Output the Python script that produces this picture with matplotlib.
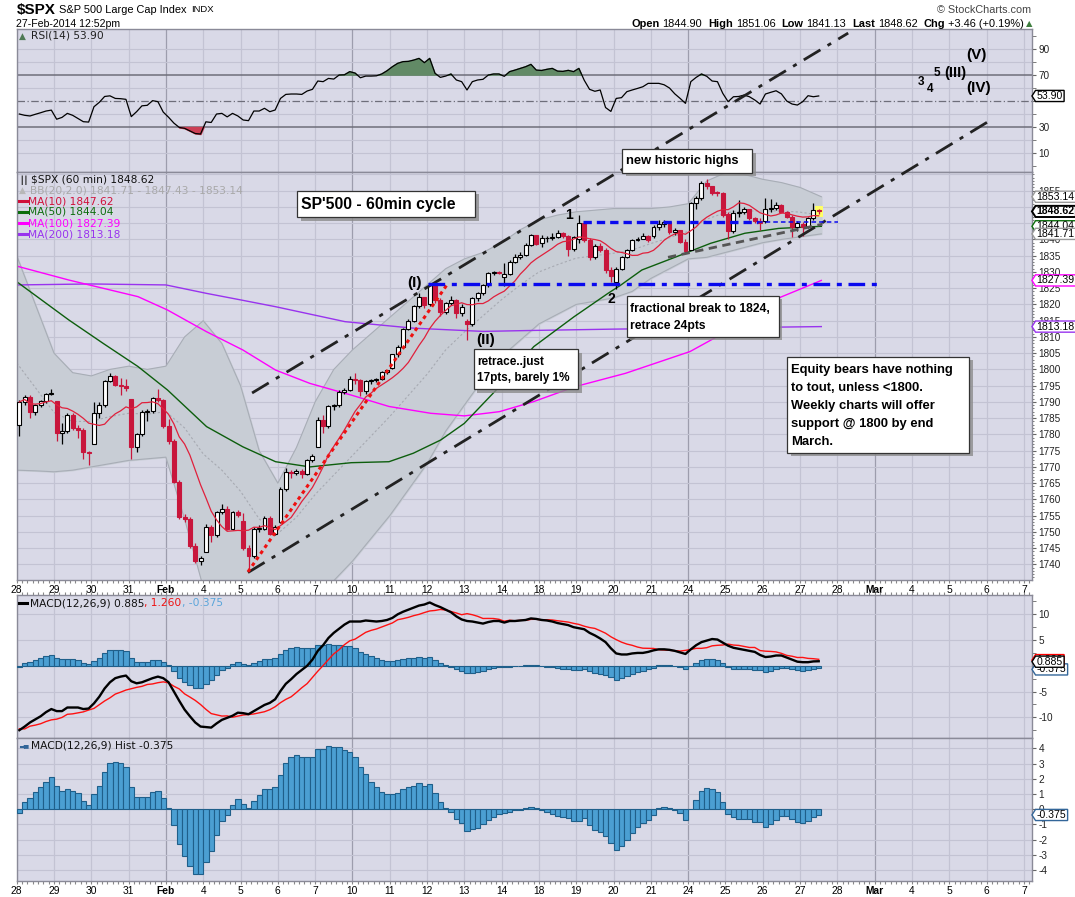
import numpy as np
import matplotlib
matplotlib.use('Agg')
import matplotlib.pyplot as plt
import matplotlib.patheffects as pe
import matplotlib.transforms as mtrans
from matplotlib.path import Path
from matplotlib.patches import Rectangle

plt.rcParams['font.family'] = ['Liberation Sans', 'DejaVu Sans']
plt.rcParams['axes.unicode_minus'] = False

W, H = 1075, 897

# ---------------- data (60 min bars, 7 per session) ----------------
day_labels = ['28', '29', '30', '31', 'Feb', '4', '5', '6', '7', '10', '11', '12', '13', '14',
              '18', '19', '20', '21', '24', '25', '26', '27', '28', 'Mar', '4', '5', '6', '7']
monday_idx = [4, 9, 18, 23]

day_open = [1783.0, 1790.2, 1777.2, 1790.9, 1782.7, 1743.8, 1753.4, 1752.9, 1776.0, 1797.0, 1800.4,
            1820.1, 1814.8, 1828.5, 1839.0, 1840.0, 1827.0, 1841.1, 1836.8, 1847.7, 1845.8, 1844.9]

closes = [
    1790.0, 1791.5, 1786.8, 1789.0, 1790.2, 1792.5, 1792.5,   # Jan 28
    1780.3, 1781.0, 1786.0, 1782.0, 1781.5, 1774.5, 1774.2,   # Jan 29
    1786.6, 1789.0, 1796.4, 1798.0, 1795.3, 1795.0, 1794.2,   # Jan 30
    1776.0, 1780.0, 1787.0, 1787.2, 1791.2, 1790.5, 1782.6,   # Jan 31
    1778.0, 1765.5, 1754.5, 1754.0, 1745.8, 1741.0, 1741.9,   # Feb 3
    1751.5, 1749.0, 1756.0, 1757.2, 1751.0, 1756.0, 1755.2,   # Feb 4
    1745.0, 1742.5, 1751.0, 1751.0, 1754.3, 1749.5, 1751.6,   # Feb 5
    1763.3, 1768.3, 1768.0, 1768.8, 1767.8, 1772.0, 1773.4,   # Feb 6
    1784.5, 1782.7, 1788.7, 1789.0, 1793.2, 1793.8, 1797.0,   # Feb 7
    1796.6, 1793.3, 1796.4, 1796.6, 1797.2, 1799.2, 1799.8,   # Feb 10
    1804.6, 1807.0, 1812.5, 1815.0, 1819.5, 1822.4, 1819.75,  # Feb 11
    1826.0, 1821.4, 1817.8, 1820.3, 1821.3, 1817.3, 1819.3,   # Feb 12
    1814.0, 1821.9, 1823.4, 1826.0, 1829.6, 1830.1, 1829.8,   # Feb 13
    1829.5, 1833.2, 1834.7, 1835.2, 1838.3, 1841.4, 1838.6,   # Feb 14
    1840.3, 1840.5, 1840.9, 1842.0, 1841.0, 1837.2, 1840.8,   # Feb 18
    1845.0, 1839.8, 1834.5, 1838.0, 1836.8, 1830.6, 1828.8,   # Feb 19
    1831.0, 1834.7, 1836.8, 1839.8, 1840.2, 1841.0, 1839.8,   # Feb 20
    1843.9, 1844.8, 1845.5, 1842.4, 1842.8, 1839.3, 1836.3,   # Feb 21
    1851.1, 1852.6, 1857.3, 1856.3, 1854.4, 1854.3, 1847.6,   # Feb 24
    1842.5, 1848.0, 1848.5, 1849.3, 1846.5, 1845.8, 1845.1,   # Feb 25
    1849.3, 1849.6, 1850.6, 1848.5, 1847.0, 1843.9, 1845.2,   # Feb 26
    1843.8, 1846.5, 1849.0, 1848.62,                          # Feb 27
]
highs = [
    1790.5, 1792.0, 1792.0, 1789.5, 1790.5, 1792.8, 1793.9,
    1790.2, 1783.5, 1786.5, 1786.5, 1783.0, 1782.0, 1775.0,
    1790.0, 1790.0, 1796.8, 1798.8, 1798.2, 1797.5, 1797.0,
    1790.9, 1780.5, 1787.5, 1787.8, 1791.5, 1793.9, 1791.0,
    1784.8, 1778.5, 1766.0, 1755.5, 1754.5, 1746.5, 1742.5,
    1752.5, 1752.0, 1756.5, 1758.7, 1758.0, 1756.5, 1756.8,
    1755.8, 1746.0, 1751.5, 1752.0, 1754.8, 1754.8, 1752.0,
    1763.8, 1769.8, 1769.0, 1769.5, 1769.3, 1772.5, 1774.1,
    1785.5, 1786.0, 1789.2, 1789.5, 1793.8, 1794.2, 1798.0,
    1799.0, 1797.0, 1796.8, 1797.0, 1797.5, 1799.5, 1799.9,
    1804.9, 1807.5, 1812.8, 1815.5, 1819.8, 1823.5, 1822.0,
    1826.6, 1826.3, 1822.0, 1820.8, 1822.5, 1821.8, 1820.0,
    1815.5, 1822.2, 1823.8, 1826.4, 1830.0, 1830.3, 1830.3,
    1832.6, 1833.6, 1835.5, 1836.0, 1838.8, 1841.7, 1841.5,
    1841.5, 1841.0, 1842.0, 1842.9, 1842.3, 1841.5, 1841.0,
    1847.5, 1845.5, 1840.3, 1838.6, 1838.8, 1837.3, 1831.5,
    1831.5, 1835.0, 1837.2, 1840.2, 1840.8, 1842.1, 1841.5,
    1844.5, 1846.1, 1846.0, 1845.6, 1843.5, 1843.0, 1840.0,
    1851.5, 1853.5, 1858.0, 1858.7, 1856.5, 1855.0, 1854.5,
    1848.5, 1849.0, 1852.0, 1850.0, 1849.5, 1847.0, 1846.5,
    1852.7, 1852.3, 1851.6, 1850.8, 1848.8, 1847.5, 1845.8,
    1845.5, 1847.0, 1851.1, 1849.5,
]
lows = [
    1779.5, 1789.0, 1785.0, 1786.0, 1788.5, 1789.8, 1792.0,
    1778.0, 1777.0, 1780.5, 1781.5, 1779.0, 1772.5, 1770.5,
    1777.2, 1785.0, 1788.5, 1796.0, 1794.8, 1792.0, 1793.5,
    1772.3, 1774.5, 1779.5, 1784.0, 1786.5, 1790.0, 1782.0,
    1777.0, 1765.0, 1754.0, 1753.0, 1745.0, 1740.5, 1739.7,
    1743.8, 1747.0, 1748.5, 1755.5, 1750.5, 1750.5, 1754.5,
    1744.5, 1737.9, 1742.0, 1750.0, 1750.5, 1749.0, 1749.0,
    1752.6, 1762.5, 1766.5, 1767.5, 1766.5, 1767.5, 1771.5,
    1776.0, 1780.5, 1782.0, 1787.5, 1788.5, 1792.5, 1793.5,
    1795.5, 1791.8, 1792.5, 1795.5, 1796.0, 1796.8, 1798.5,
    1800.1, 1803.8, 1806.5, 1812.0, 1814.5, 1819.0, 1818.8,
    1819.5, 1820.5, 1816.5, 1817.0, 1819.8, 1815.9, 1816.5,
    1809.2, 1813.5, 1821.0, 1823.0, 1825.5, 1829.0, 1829.3,
    1825.6, 1829.0, 1832.8, 1834.0, 1834.8, 1838.0, 1838.2,
    1837.6, 1839.2, 1839.8, 1840.5, 1840.5, 1835.0, 1836.5,
    1839.0, 1839.3, 1833.8, 1834.0, 1836.0, 1829.8, 1827.0,
    1824.6, 1830.5, 1834.2, 1836.5, 1839.5, 1840.0, 1839.2,
    1840.5, 1843.0, 1843.8, 1841.8, 1841.5, 1838.8, 1835.6,
    1836.8, 1849.5, 1852.0, 1855.5, 1853.8, 1853.5, 1847.0,
    1840.2, 1842.0, 1847.0, 1847.8, 1846.0, 1845.0, 1843.0,
    1845.0, 1848.5, 1849.0, 1848.0, 1846.5, 1840.7, 1842.5,
    1841.1, 1843.5, 1846.0, 1847.8,
]

rsi = [
    40, 39, 38.5, 39.8, 41, 42.3, 43,
    36, 37.4, 40.5, 39, 36.5, 34.1, 33.8,
    45.6, 49, 53.5, 54, 52, 51.8, 51.3,
    38, 41.8, 46.3, 46.7, 50.3, 49.5, 41.5,
    37.5, 33, 29.7, 29, 27, 25, 24.6,
    34, 33.5, 40, 40.5, 37.8, 40.5, 38.5,
    35.4, 34.9, 42.3, 42.3, 44.4, 41.8, 43.1,
    52, 55.1, 55.4, 55.4, 55.1, 57.7, 59,
    65.4, 64.9, 67.4, 66.9, 70, 70.2, 72.6,
    71.5, 67.9, 69.2, 69.2, 69.4, 70.8, 73.3,
    76.4, 79, 80.3, 80.5, 81.5, 82.8, 79.5,
    82.8, 71.3, 68.2, 69.2, 70.8, 66.2, 64.9,
    58.5, 64.9, 66.2, 66.7, 70, 70.8, 70.8,
    69, 72.6, 73.8, 75.1, 76.4, 78.2, 73.8,
    73.5, 74.4, 75.1, 73, 72.8, 73.6, 72.6,
    75.1, 66, 59, 57.5, 58.5, 45, 42,
    52, 52.6, 57.2, 58.5, 59.7, 61, 63.6,
    63.6, 63.6, 62.5, 60, 55.5, 52, 48.2,
    64.9, 68.2, 70.8, 69, 65.4, 64.9, 55.9,
    49.5, 53.3, 53.5, 54.6, 53.3, 50.8, 47.7,
    55.4, 56.7, 57.9, 55.5, 50, 47.7, 46.9,
    49.5, 54.1, 53.3, 53.9,
]

macd = [
    -12.5, -11.8, -11.0, -10.4, -9.8, -9.0, -8.4,
    -8.8, -8.8, -8.1, -8.1, -8.1, -8.4, -8.3,
    -7.3, -6.0, -4.4, -3.2, -2.4, -2.1, -1.9,
    -3.0, -3.4, -3.2, -2.8, -2.4, -2.1, -2.4,
    -3.2, -5.0, -6.8, -8.5, -9.8, -11.0, -11.8,
    -11.9, -12.0, -11.2, -10.5, -10.1, -9.7, -9.1,
    -9.2, -9.4, -8.8, -8.2, -7.6, -7.2, -6.5,
    -4.9, -3.5, -2.6, -1.6, -0.8, 0.0, 1.2,
    2.9, 4.0, 5.4, 6.4, 7.2, 8.0, 8.6,
    8.6, 8.6, 8.8, 8.7, 8.6, 8.7, 8.9,
    9.3, 10.0, 10.5, 10.9, 11.3, 11.7, 11.9,
    12.3, 11.8, 11.4, 10.9, 10.4, 9.6, 9.0,
    8.7, 8.6, 8.4, 8.2, 8.5, 8.7, 8.7,
    8.4, 8.7, 8.7, 8.8, 8.9, 9.2, 9.1,
    8.9, 8.8, 8.6, 8.3, 8.1, 7.9, 7.5,
    7.3, 7.1, 6.4, 5.9, 5.3, 4.6, 3.4,
    2.4, 2.2, 2.2, 2.4, 2.5, 2.5, 2.7,
    3.0, 3.2, 3.2, 3.1, 2.9, 2.6, 2.3,
    3.2, 4.0, 4.6, 4.9, 5.2, 5.1, 4.5,
    3.9, 3.5, 3.3, 3.1, 2.9, 2.7, 2.1,
    1.7, 1.8, 2.0, 2.0, 1.6, 1.2, 0.8,
    0.7, 0.7, 0.85, 0.885,
]
hist = [
    -0.26, 0.46, 0.72, 1.12, 1.45, 1.82, 2.1,
    1.56, 1.23, 1.32, 1.23, 1.05, 0.55, 0.29,
    0.98, 1.56, 2.43, 3.02, 3.09, 3.02, 2.81,
    1.45, 0.79, 0.79, 0.83, 1.12, 1.18, 0.72,
    0.11, -1.03, -2.31, -3.05, -3.73, -4.28, -4.28,
    -3.45, -2.72, -1.69, -0.74, -0.37, 0.29, 0.66,
    0.35, 0.07, 0.55, 0.94, 1.32, 1.32, 1.45,
    2.26, 3.02, 3.42, 3.57, 3.46, 3.46, 3.46,
    3.95, 3.95, 4.19, 4.08, 4.08, 3.9, 3.75,
    3.42, 2.76, 2.3, 1.82, 1.45, 1.16, 0.98,
    0.98, 1.05, 1.34, 1.49, 1.56, 1.71, 1.56,
    1.65, 1.05, 0.46, 0.07, -0.15, -0.66, -0.92,
    -1.43, -1.32, -1.21, -0.99, -0.70, -0.48, -0.33,
    -0.26, -0.15, -0.04, -0.04, 0.07, 0.18, 0.07,
    -0.04, -0.15, -0.30, -0.45, -0.53, -0.59, -0.74,
    -0.74, -0.59, -1.03, -1.36, -1.51, -1.73, -2.24,
    -2.68, -2.39, -2.02, -1.58, -1.14, -0.92, -0.70,
    -0.37, 0.07, 0.13, 0.07, -0.04, -0.26, -0.70,
    0.02, 0.61, 1.21, 1.38, 1.32, 1.12, 0.46,
    -0.31, -0.53, -0.66, -0.66, -0.66, -0.86, -0.86,
    -1.14, -0.99, -0.70, -0.42, -0.42, -0.66, -0.81,
    -0.92, -0.74, -0.53, -0.375,
]

# moving averages / bands (x in sessions)
bb_x = [0, 0.5, 1, 1.5, 2, 2.5, 3, 3.5, 4, 4.5, 5, 5.5, 6, 6.5, 7, 7.5, 8, 8.5, 9, 9.5, 10, 10.5,
        11, 11.5, 12, 12.5, 13, 13.5, 14, 14.5, 15, 15.5, 16, 16.5, 17, 17.5, 18, 18.5, 19, 19.5,
        20, 20.5, 21, 21.57]
bb_upper = [1835, 1820, 1805, 1799, 1798, 1800, 1801, 1800, 1801, 1810, 1815, 1808, 1795, 1775,
            1765, 1776, 1790, 1800, 1806, 1811, 1816, 1821, 1826, 1831, 1834, 1836, 1839, 1843,
            1846, 1847.5, 1848.5, 1849, 1849.5, 1849.5, 1849.5, 1850, 1851, 1858, 1860.5, 1860,
            1858.5, 1857.5, 1856, 1853.14]
bb_lower = [1769, 1768.8, 1768.5, 1769, 1770, 1771, 1772, 1772.5, 1773, 1754, 1733, 1730, 1730,
            1733, 1734, 1733, 1733, 1735, 1741, 1748, 1755, 1763, 1771, 1781, 1789, 1797, 1804,
            1809, 1814, 1817, 1820, 1821, 1822, 1824, 1828, 1831, 1834, 1834.5, 1836, 1837.5,
            1839, 1840, 1840.8, 1841.71]

ma50_x = [0.0, 1.4, 2.32, 3.25, 4.04, 5.09, 6.06, 6.94, 7.86, 8.97, 9.98, 10.63, 11.37, 12.0,
          12.94, 13.86, 14.94, 15.85, 16.2, 16.76, 17.69, 18.6, 19.52, 20.43, 21.57]
ma50 = [1827, 1815.2, 1808, 1800.9, 1793.7, 1782.4, 1776.2, 1771.6, 1770, 1771.3, 1771.6, 1774.2,
        1778.3, 1783.4, 1794.7, 1807, 1816.2, 1823.4, 1826, 1830.6, 1834.7, 1838.8, 1841.9,
        1843.4, 1844.04]
ma100_x = [0.0, 1.4, 3.25, 4.04, 5.09, 6.06, 6.94, 7.86, 8.97, 9.98, 11.1, 12.0, 12.94, 13.86,
           14.97, 16.32, 18.05, 18.7, 20.43, 21.57]
ma100 = [1831.8, 1827.5, 1822.4, 1818.3, 1811.6, 1806, 1799.8, 1795.7, 1792.1, 1788.6, 1786.5,
         1785.7, 1787, 1790.1, 1794.7, 1798.8, 1805.5, 1809.6, 1822.0, 1827.39]
ma200_x = [0.0, 2.0, 4.0, 5.09, 6.0, 6.94, 8.8, 10.63, 12.5, 13.86, 16.0, 21.57]
ma200 = [1826.0, 1826.3, 1826.0, 1823.4, 1821.4, 1819.3, 1814.7, 1812.7, 1811.7, 1812.0, 1812.4,
         1813.18]

# ---------------- derived ----------------
n = len(closes)
closes = np.array(closes)
opens = np.array([day_open[j // 7] if j % 7 == 0 else closes[j - 1] for j in range(n)])
highs = np.maximum(np.array(highs), np.maximum(opens, closes))
lows = np.minimum(np.array(lows), np.minimum(opens, closes))
bar_x = (np.arange(n) + 0.5) / 7.0
ma10 = np.array([closes[max(0, j - 9):j + 1].mean() for j in range(n)])
macd = np.array(macd)
hist = np.array(hist)
signal = macd - hist
rsi = np.array(rsi)
bb_mid = (np.array(bb_upper) + np.array(bb_lower)) / 2

# ---------------- figure ----------------
BG = '#d9d9e7'
GRID = '#c3c3d3'
GRID_DK = '#9d9dad'
SPINE = '#8a8a98'
RED = '#c8163c'
XMAX = 27.21

fig = plt.figure(figsize=(W / 100, H / 100), dpi=100)
fig.patch.set_facecolor('white')


def px_axes(x0, y0, x1, y1):
    return fig.add_axes([x0 / W, 1 - y1 / H, (x1 - x0) / W, (y1 - y0) / H])


ax_rsi = px_axes(16.7, 29.3, 1031.7, 172.3)
ax = px_axes(16.7, 172.3, 1031.7, 580)
ax_macd = px_axes(16.7, 595, 1031.7, 738.3)
ax_hist = px_axes(16.7, 738.3, 1031.7, 881)

for a in (ax_rsi, ax, ax_macd, ax_hist):
    a.set_facecolor(BG)
    a.set_xlim(0, XMAX)
    for s in a.spines.values():
        s.set_color(SPINE)
        s.set_linewidth(1.0)
    for k in range(28):
        a.axvline(k, color=GRID_DK if k in monday_idx else GRID, lw=0.9, zorder=0.5)
    a.yaxis.tick_right()
    a.tick_params(axis='y', which='both', left=False, right=True, labelleft=False, labelright=True,
                  labelsize=7.2, colors='#222222', length=3, pad=2)
    a.tick_params(axis='y', which='both', color='#666666')
    a.tick_params(axis='x', which='both', bottom=False, top=False, labelbottom=False)

ax_rsi.set_ylim(-4.85, 105.2)
ax.set_ylim(1735.2, 1860.66)
ax_macd.set_ylim(-14.08, 13.75)
ax_hist.set_ylim(-4.72, 4.67)

# horizontal grids
for v in range(10, 100, 10):
    if v in (30, 50, 70):
        continue
    ax_rsi.axhline(v, color=GRID, lw=0.8, zorder=0.5)
ax_rsi.axhline(70, color='#6e6e7a', lw=1.1, zorder=0.6)
ax_rsi.axhline(30, color='#6e6e7a', lw=1.1, zorder=0.6)
ax_rsi.axhline(50, color='#6e6e7a', lw=0.9, ls=(0, (6, 2, 1, 2)), zorder=0.6)
for v in range(1740, 1861, 5):
    ax.axhline(v, color=GRID, lw=0.8, zorder=0.5)
for v in range(-10, 11, 5):
    ax_macd.axhline(v, color=GRID, lw=0.8, zorder=0.5)
for v in range(-4, 5):
    ax_hist.axhline(v, color=GRID, lw=0.8, zorder=0.5)

# tick labels hidden where the value tags sit on top of them
rsi_ticks = [10, 30, 50, 70, 90]
ax_rsi.set_yticks(rsi_ticks, ['' if v == 50 else str(v) for v in rsi_ticks])
ax_rsi.set_yticks(range(0, 101, 10), minor=True)
price_ticks = list(range(1740, 1860, 5))
ax.set_yticks(price_ticks, ['' if v in (1845, 1850) else str(v) for v in price_ticks])
ax.set_yticks(range(1736, 1861, 1), minor=True)
ax.tick_params(axis='y', which='minor', length=1.5)
macd_ticks = [-10, -5, 0, 5, 10]
ax_macd.set_yticks(macd_ticks, ['' if v == 0 else str(v) for v in macd_ticks])
ax_macd.set_yticks(np.arange(-12.5, 13, 2.5), minor=True)
ax_hist.set_yticks(range(-4, 5))

# x labels in the two strips
for a, top in ((ax, False), (ax_macd, True), (ax_hist, False)):
    a.set_xticks(np.arange(0, XMAX, 1 / 7.0), minor=True)
    a.tick_params(axis='x', which='minor', bottom=not top, top=top, length=2.2, color='#888888', width=0.8)
for a in (ax, ax_hist):
    a.set_xticks(range(28))
    a.set_xticklabels(day_labels)
    a.tick_params(axis='x', which='major', bottom=True, labelbottom=True, length=2.2,
                  color='#888888', pad=1.5, labelsize=7.4)
    for lbl in a.get_xticklabels():
        if lbl.get_text() in ('Feb', 'Mar'):
            lbl.set_fontweight('bold')

# ---------------- RSI ----------------
ax_rsi.plot(bar_x, rsi, color='black', lw=0.9, zorder=3)
ax_rsi.fill_between(bar_x, rsi, 70, where=rsi >= 70, interpolate=True, color='#628a66', zorder=2)
ax_rsi.fill_between(bar_x, rsi, 30, where=rsi <= 30, interpolate=True, color='#cc3f55', zorder=2)

# ---------------- price ----------------
ax.fill_between(bb_x, bb_lower, bb_upper, color='#c8cdd5', zorder=1)
ax.plot(bb_x, bb_upper, color='#a8adb6', lw=0.8, zorder=1.2)
ax.plot(bb_x, bb_lower, color='#a8adb6', lw=0.8, zorder=1.2)
ax.plot(bb_x, bb_mid, color='#a7aab2', lw=0.8, ls=(0, (2, 2)), zorder=1.2)

ax.plot(ma200_x, ma200, color='#9933ee', lw=1.0, zorder=2)
ax.plot(ma100_x, ma100, color='#ff00ff', lw=1.0, zorder=2)
ax.plot(ma50_x, ma50, color='#0d5e0d', lw=1.0, zorder=2)

# yellow highlight of the last bar
ax.add_patch(Rectangle((bar_x[-1] - 0.75 / 7, 1847.0), 1.5 / 7, 3.3, facecolor='#ffff66',
                       edgecolor='none', zorder=2.5))

up = closes >= opens
body_lo = np.minimum(opens, closes)
body_h = np.maximum(np.abs(closes - opens), 0.15)
ax.vlines(bar_x, lows, highs, colors=np.where(up, 'black', RED), lw=0.9, zorder=4)
ax.bar(bar_x[up], body_h[up], bottom=body_lo[up], width=0.74 / 7, facecolor='white',
       edgecolor='black', linewidth=0.8, zorder=5)
ax.bar(bar_x[~up], body_h[~up], bottom=body_lo[~up], width=0.74 / 7, facecolor=RED,
       edgecolor=RED, linewidth=0.8, zorder=5)
ax.plot(bar_x, ma10, color='#e0203c', lw=0.9, zorder=6)

# ---------------- annotations on price ----------------
dashdot = (0, (7, 3, 1.5, 3))
ax.plot([6.31, 22.29], [1792.75, 1903.5], color='#222222', lw=2.0, ls=dashdot, zorder=7, clip_on=False)
ax.plot([6.2, 26.15], [1737.5, 1877.0], color='#222222', lw=2.0, ls=dashdot, zorder=7, clip_on=False)
ax.plot([6.2, 11.55], [1737.7, 1826.3], color='#ee1111', lw=2.2, ls=(0, (1.2, 1.2)), zorder=7)
ax.plot([11.03, 23.06], [1826.3, 1826.3], color='#0a0aee', lw=2.4, ls=(0, (5, 2, 1.5, 2)), zorder=7)
ax.plot([15.17, 19.88], [1845.3, 1845.3], color='#0a0aee', lw=2.4, ls=(0, (2.5, 1.5)), zorder=7)
ax.plot([19.88, 22.03], [1845.3, 1845.3], color='#0a0aee', lw=1.1, ls=(0, (3, 2)), zorder=7)
ax.plot([17.46, 21.6], [1834.5, 1844.7], color='#555555', lw=2.0, ls=(0, (3, 2)), zorder=7)

px_per_price = (580 - 172.3) / (1860.66 - 1735.2)


def note(x0, x1, y_top, y_bot, lines, size, tx, ty_first, dy_px):
    r = Rectangle((x0, y_bot), x1 - x0, y_top - y_bot, facecolor='white', edgecolor='#333333',
                  lw=0.9, zorder=20, clip_on=False)
    r.set_path_effects([pe.SimplePatchShadow(offset=(2.5, -2.5), shadow_rgbFace='#8c8c8c', alpha=0.8),
                        pe.Normal()])
    ax.add_patch(r)
    for i, line in enumerate(lines):
        ax.text(tx, ty_first - i * dy_px / px_per_price, line, fontsize=size, fontweight='bold',
                ha='left', va='center', zorder=21, clip_on=False, color='black')


note(7.52, 12.29, 1855.0, 1846.8, ["SP'500 - 60min cycle"], 11.3, 7.62, 1850.9, 0)
note(16.24, 19.72, 1867.7, 1860.5, ['new historic highs'], 9.3, 16.33, 1864.1, 0)
note(12.25, 15.05, 1806.2, 1793.9, ['retrace..just', '17pts, barely 1%'], 8.5, 12.35, 1802.4, 16.3)
note(16.36, 20.43, 1822.6, 1810.1, ['fractional break to 1824,', 'retrace 24pts'], 8.7, 16.44, 1818.6, 16.7)
note(20.66, 25.54, 1803.9, 1774.3,
     ['Equity bears have nothing', 'to tout, unless <1800.', 'Weekly charts will offer',
      'support @ 1800 by end', 'March.'], 9.4, 20.76, 1799.8, 18.1)

for txt, x, y, fs in (('(I)', 10.66, 1826.5, 11), ('(II)', 12.57, 1809.1, 11),
                      ('1', 14.81, 1847.5, 10), ('2', 15.95, 1821.6, 10)):
    ax.text(x, y, txt, fontsize=fs, fontweight='bold', ha='center', va='center', zorder=8)

for txt, x, y, fs in (('3', 24.23, 64.8, 8.5), ('4', 24.5, 59.0, 8.5), ('5', 24.67, 71.8, 8.5),
                      ('(III)', 25.17, 71.3, 10.5), ('(V)', 25.72, 85.4, 11), ('(IV)', 25.78, 59.8, 11)):
    ax_rsi.text(x, y, txt, fontsize=fs, fontweight='bold', ha='center', va='center', zorder=8)

# ---------------- MACD ----------------
for a in (ax_macd, ax_hist):
    a.bar(bar_x, hist, width=1 / 7.0, facecolor='#4b9fd2', edgecolor='#1f5f8a', linewidth=0.8, zorder=3)
ax_macd.plot(bar_x, signal, color='#ff1111', lw=1.0, zorder=4)
ax_macd.plot(bar_x, macd, color='black', lw=1.7, zorder=5)


# ---------------- value tags on the right axis ----------------
def tag_shape(x0, y0, width, height, mutation_size):
    pad = 0.22 * mutation_size
    x0 -= pad * 0.5
    x1 = x0 + width + pad * 1.0
    y0 -= pad * 0.25
    y1 = y0 + height + pad * 0.5
    ym = (y0 + y1) / 2
    tip = (y1 - y0) * 0.32
    verts = [(x0 - tip, ym), (x0, y1), (x1, y1), (x1, y0), (x0, y0), (x0 - tip, ym)]
    return Path(verts, closed=True)


def tag(a, y, text, edge, bold=False, lw=1.0, z=30):
    tr = mtrans.offset_copy(mtrans.blended_transform_factory(a.transAxes, a.transData),
                            fig=fig, x=5, y=0, units='dots')
    a.text(1.0, y, text, transform=tr, ha='left', va='center', fontsize=7.6,
           fontweight='bold' if bold else 'normal', color='black', clip_on=False, zorder=z,
           bbox=dict(boxstyle=tag_shape, facecolor='white', edgecolor=edge, linewidth=lw))


tag(ax_rsi, 53.9, '53.90', 'black')
tag(ax, 1853.14, '1853.14', '#9a9a9a')
tag(ax, 1844.04, '1844.04', '#0d6e0d')
tag(ax, 1841.71, '1841.71', '#9a9a9a', z=31)
tag(ax, 1848.62, '1848.62', 'black', bold=True, lw=1.4, z=32)
tag(ax, 1827.39, '1827.39', '#ff00ff')
tag(ax, 1813.18, '1813.18', '#9933ee')
tag(ax_macd, -0.7, '-0.375', '#336699')
tag(ax_macd, 1.1, '1.260', '#ff0000', z=31)
tag(ax_macd, 0.8, '0.885', 'black', z=32)
tag(ax_hist, -0.375, '-0.375', '#336699')

# ---------------- header and legends ----------------
renderer = fig.canvas.get_renderer()


def put(x, y, parts):
    cur = x
    for text, kw, gap in parts:
        t = fig.text(cur / W, 1 - y / H, text, ha='left', va='center', **kw)
        cur += t.get_window_extent(renderer).width + gap
    return cur


put(16.5, 10, [('$SPX', dict(fontsize=11, fontweight='bold'), 4),
               ('S&P 500 Large Cap Index', dict(fontsize=7.9), 4),
               ('INDX', dict(fontsize=6.8), 0)])
fig.text(16.5 / W, 1 - 24 / H, '27-Feb-2014 12:52pm', fontsize=7.6, ha='left', va='center')
fig.text(1031 / W, 1 - 10 / H, '\u00a9 StockCharts.com', fontsize=7.8, ha='right', va='center',
         color='#444444')
bold = dict(fontsize=7.9, fontweight='bold')
reg = dict(fontsize=7.9)
end = put(631, 24, [('Open', bold, 3), ('1844.90', reg, 6), ('High', bold, 3), ('1851.06', reg, 6),
                    ('Low', bold, 3), ('1841.13', reg, 6), ('Last', bold, 3), ('1848.62', reg, 6),
                    ('Chg', bold, 3), ('+3.46 (+0.19%)', reg, 2)])
fig.text(end / W, 1 - 24 / H, '\u25b2', fontsize=6, color='#3f7f3f', ha='left', va='center',
         family='DejaVu Sans')

leg = dict(fontsize=7.7, family='DejaVu Sans')
fig.text(19 / W, 1 - 36 / H, '\u25b2', fontsize=6.5, color='#4f7a55', ha='left', va='center',
         family='DejaVu Sans')
put(31, 36, [('RSI(14) 53.90', dict(leg, color='#222222'), 0)])

fig.text(19 / W, 1 - 180 / H, '\u2503\u2503', fontsize=5.5, color='#333333', ha='left', va='center',
         family='DejaVu Sans')
put(31, 180, [('$SPX (60 min) 1848.62', dict(leg, color='#111111'), 0)])
fig.text(19 / W, 1 - 190.7 / H, '\u25b2', fontsize=6.5, color='#b8b8b8', ha='left', va='center',
         family='DejaVu Sans')
put(30, 190.7, [('BB(20,2.0) 1841.71 - 1847.43 - 1853.14', dict(leg, color='#a9a9a9'), 0)])
for yy, txt, col in ((201.3, 'MA(10) 1847.62', '#d0103a'), (212.0, 'MA(50) 1844.04', '#0d6e0d'),
                     (223.3, 'MA(100) 1827.39', '#ff00ff'), (234.3, 'MA(200) 1813.18', '#9933ee')):
    fig.add_artist(plt.Line2D([19 / W, 27 / W], [1 - yy / H, 1 - yy / H], color=col, lw=2.2))
    put(28.5, yy, [(txt, dict(leg, color=col), 0)])

fig.add_artist(plt.Line2D([19 / W, 27 / W], [1 - 603 / H, 1 - 603 / H], color='black', lw=2.2))
put(30, 603, [('MACD(12,26,9) 0.885', dict(leg, color='#111111'), 0),
              (', 1.260', dict(leg, color='#ee1111'), 0),
              (', -0.375', dict(leg, color='#5aa5da'), 0)])
fig.text(19 / W, 1 - 745 / H, '\u2583\u2585', fontsize=4.5, color='#336699', ha='left', va='center',
         family='DejaVu Sans')
put(31, 745, [('MACD(12,26,9) Hist -0.375', dict(leg, color='#111111'), 0)])

fig.savefig('out.png', dpi=100, facecolor='white')
